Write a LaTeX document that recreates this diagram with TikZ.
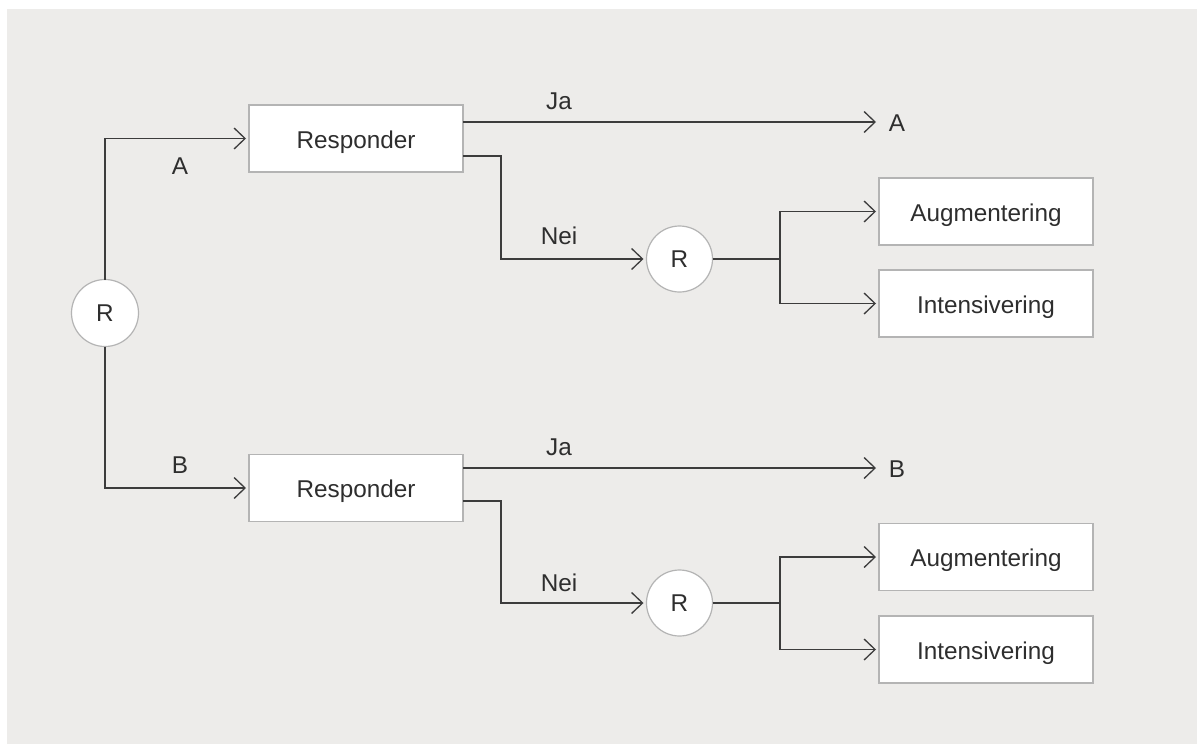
\documentclass[tikz,border=0pt]{standalone}
\usepackage{fontspec}
\setmainfont{Liberation Sans}
\usetikzlibrary{arrows.meta}
\definecolor{bg}{HTML}{EDECEA}
\definecolor{ink}{HTML}{2E2E2E}
\definecolor{lineink}{HTML}{3C3C3C}
\definecolor{boxline}{HTML}{B4B4B4}
\begin{document}
\begin{tikzpicture}[x=1pt,y=-1pt,
  every node/.style={text=ink, font=\fontsize{24.3}{28}\selectfont},
  box/.style={draw=boxline, fill=white, line width=1.2pt, minimum width=214pt, minimum height=67pt, inner sep=0pt, outer sep=0pt, text height=19.5pt, text depth=0pt},
  rnode/.style={circle, draw=boxline, fill=white, line width=1.2pt, minimum size=67pt, inner sep=0pt, outer sep=0pt, text height=17.4pt, text depth=0pt},
  lbl/.style={anchor=base, inner sep=0pt},
  conn/.style={draw=lineink, line width=1.3pt},
  arr/.style={conn, -{Straight Barb[length=11pt, width=21pt, line width=1.3pt]}, shorten >=3pt}
]
\useasboundingbox (0,0) rectangle (1200,744);
\fill[bg] (7,9) rectangle (1197,744);

% nodes
\node[rnode] (R0) at (105,313) {R};
\node[box] (resp1) at (356,138.5) {Responder};
\node[box] (resp2) at (356,488) {Responder};
\node[rnode, minimum size=66pt] (R1) at (679.5,259) {R};
\node[rnode, minimum size=66pt] (R2) at (679.5,603) {R};
\node[box] (aug1) at (986,211.5) {Augmentering};
\node[box] (int1) at (986,303.5) {Intensivering};
\node[box] (aug2) at (986,557) {Augmentering};
\node[box] (int2) at (986,649.5) {Intensivering};
\node[lbl] (endA) at (897,131) {A};
\node[lbl] (endB) at (897,477) {B};
\coordinate (tipA) at (879,122);
\coordinate (tipB) at (879,468);

% left branch
\draw[arr] (R0.north) |- (resp1.west);
\draw[arr] (R0.south) |- (resp2.west);
\node[lbl] (labA) at (180,174) {A};
\node[lbl] (labB) at (180,473) {B};

% top responder
\draw[arr] (resp1.east |- tipA) -- (tipA);
\node[lbl] (ja1) at (559,109) {Ja};
\draw[arr] (resp1.east |- 0,156) -- (501,156) |- (R1.west);
\node[lbl] (nei1) at (559,244) {Nei};
\draw[conn] (R1.east) -- (780,259);
\draw[arr] (780,259) |- (aug1.west);
\draw[arr] (780,259) |- (int1.west);

% bottom responder
\draw[arr] (resp2.east |- tipB) -- (tipB);
\node[lbl] (ja2) at (559,455) {Ja};
\draw[arr] (resp2.east |- 0,501) -- (501,501) |- (R2.west);
\node[lbl] (nei2) at (559,591) {Nei};
\draw[conn] (R2.east) -- (780,603);
\draw[arr] (780,603) |- (aug2.west);
\draw[arr] (780,603) |- (int2.west);
\end{tikzpicture}
\end{document}
